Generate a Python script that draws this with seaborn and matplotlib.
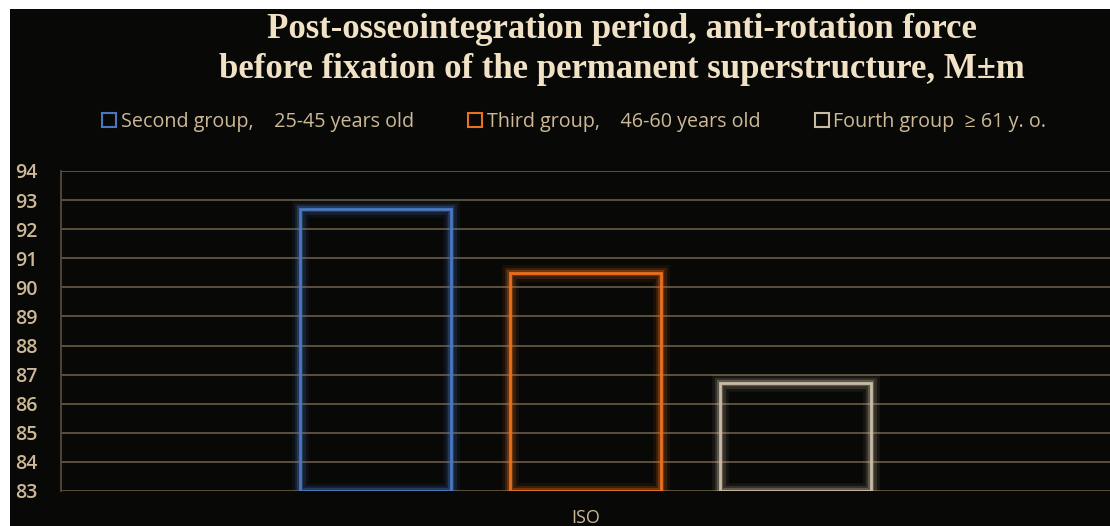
import pandas as pd
import matplotlib.pyplot as plt
import matplotlib.patheffects as pe
from matplotlib.patches import Rectangle
import seaborn as sns

# data
categories = ["ISO"]
groups = ["Second group,    25-45 years old", "Third group,    46-60 years old", "Fourth group  \u2265 61 y. o."]
values = [92.7, 90.5, 86.7]
colors = ["#4a78c0", "#e8701e", "#c9bba4"]
y_ticks = list(range(83, 95))

df = pd.DataFrame({"category": categories * len(groups), "group": groups, "value": values})

bg = "#080806"
text_col = "#cdb997"
grid_col = "#5c4f3d"

sns.set_style("dark")
plt.rcParams["font.family"] = ["Open Sans", "DejaVu Sans"]

fig = plt.figure(figsize=(11.1, 5.26), dpi=100, facecolor="white")
# dark panel leaving thin white strips at top and left
fig.patches.append(Rectangle((10 / 1110, 0), 1, 1 - 9 / 526, transform=fig.transFigure,
                             facecolor=bg, edgecolor="none", zorder=-5))

ax = fig.add_axes([61 / 1110, 1 - 491 / 526, 1 - 61 / 1110, (491 - 171) / 526])
ax.set_zorder(2)
ax.set_facecolor(bg)

sns.barplot(data=df, x="category", y="value", hue="group", hue_order=groups,
            palette=colors, width=0.6, gap=0.28, fill=False, linewidth=2,
            ax=ax, legend=False, zorder=3)

base = y_ticks[0]
# bars start at the axis floor so the bottom edge is visible; outline + glow
for patch, c, v in zip(ax.patches, colors, values):
    patch.set_y(base)
    patch.set_height(v - base)
    patch.set_edgecolor(c)
    patch.set_facecolor("none")
    patch.set_path_effects([pe.Stroke(linewidth=12, foreground=c, alpha=0.08),
                            pe.Stroke(linewidth=8, foreground=c, alpha=0.15),
                            pe.Stroke(linewidth=4.5, foreground=c, alpha=0.3),
                            pe.Normal()])

ax.set_ylim(83, 94)
ax.set_yticks(y_ticks)
ax.set_xlim(-0.5, 0.5)
ax.set_ylabel("")
ax.set_xlabel("")
ax.grid(axis="y", color=grid_col, linewidth=1.4, zorder=0)
ax.grid(axis="x", visible=False)
ax.set_axisbelow(True)
for side in ["top", "right", "bottom"]:
    ax.spines[side].set_visible(False)
ax.spines["left"].set_color(grid_col)
ax.spines["left"].set_linewidth(1.2)
ax.tick_params(axis="y", colors=text_col, labelsize=14, length=0, pad=17)
ax.tick_params(axis="x", colors=text_col, labelsize=13, length=0, pad=13)
for lbl in ax.get_yticklabels():
    lbl.set_fontweight("semibold")

# legend with hollow squares
handles = [plt.Line2D([], [], marker="s", linestyle="none", markersize=10,
                      markerfacecolor="none", markeredgecolor=c, markeredgewidth=1.5)
           for c in colors]
fig.legend(handles, groups, loc="center", bbox_to_anchor=(0.516, 1 - 122 / 526), ncol=3,
           frameon=False, fontsize=14.2, labelcolor=text_col, handletextpad=0.1,
           columnspacing=2.6, handlelength=1.0)

fig.text(0.56, 1 - 29 / 526, "Post-osseointegration period, anti-rotation force",
         ha="center", va="center", fontsize=25, fontweight="bold",
         family=["Liberation Serif", "DejaVu Serif"], color="#f1e2c6")
fig.text(0.56, 1 - 69 / 526, "before fixation of the permanent superstructure, M\u00b1m",
         ha="center", va="center", fontsize=25, fontweight="bold",
         family=["Liberation Serif", "DejaVu Serif"], color="#f1e2c6")

fig.savefig("out.png", dpi=100, facecolor=fig.get_facecolor())
